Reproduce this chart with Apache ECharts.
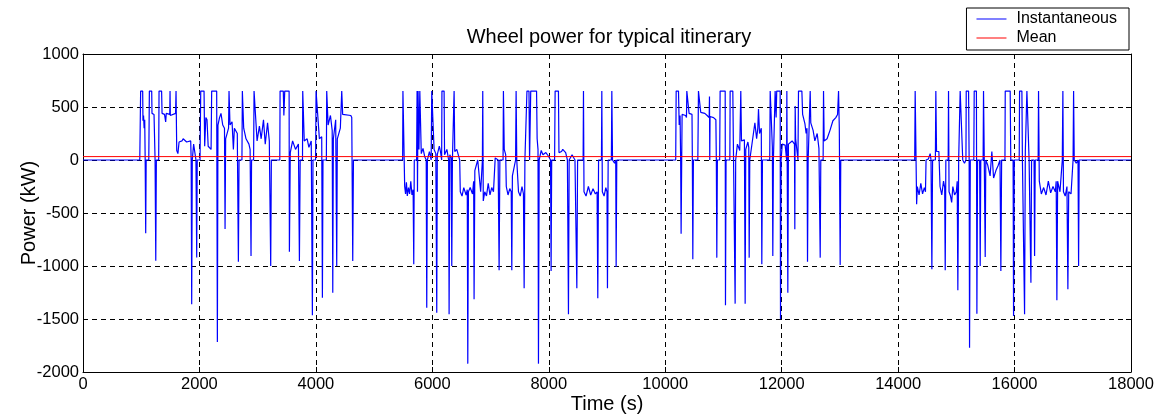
<!DOCTYPE html>
<html>
<head>
<meta charset="utf-8">
<script src="https://cdn.jsdelivr.net/npm/echarts@6/dist/echarts.min.js"></script>
<style>
html,body{margin:0;padding:0;background:#fff;overflow:hidden;}
#chart{width:1156px;height:416px;}
</style>
</head>
<body>
<div id="chart"></div>
<script>
// Trip 1 (forward)
var trip1Time = [975,990,1025,1030,1040,1050,1060,1068,1077,1085,1130,1140,1180,1185,1220,1238,1250,1260,1300,1306,1350,1358,1400,1420,1430,1490,1495,1500,1590,1598,1610,1630,1650,1700,1720,1780,1850,1858,1867,1877,1900,1940,1953,1962,2010,2022,2079,2090,2110,2130,2150,2200,2210,2296,2308,2318,2345,2370,2400,2430,2440,2450,2500,2508,2525,2560,2583,2600,2650,2669,2680,2730,2737,2760,2800,2850,2870,2886,2895,2930,2938,2990,3030,3060,3100,3130,3170,3200,3224,3235,3380,3385,3440,3450,3465,3540,3545,3560,3600,3650,3700,3717,3730,3770,3774,3800,3850,3880,3920,3940,3950,3995,4003,4026,4060,4100,4112,4122,4180,4186,4210,4250,4280,4290,4300,4340,4358,4368,4420,4444,4460,4600,4616,4633,4645];
var trip1Power = [0,650,650,370,420,300,380,0,-690,0,0,650,650,440,430,0,-950,0,0,650,650,440,430,360,440,430,650,420,440,650,90,60,170,180,200,170,180,0,-1360,0,150,0,-920,0,0,650,650,130,400,380,130,100,650,650,-1717,330,400,440,330,300,-650,200,300,650,330,360,100,300,250,-959,0,0,650,300,200,150,100,-906,0,0,650,180,320,200,380,150,350,180,-1000,0,0,650,650,420,650,650,-865,70,180,100,150,-953,0,0,650,180,200,120,180,-1465,0,0,650,650,200,220,-1299,0,0,650,330,420,280,-1252,200,380,-1000,200,300,650,430,420,400,-953,0];

// Trip 2 (return)
var trip2Time = [5490,5495,5515,5525,5540,5555,5570,5590,5610,5630,5650,5670,5681,5690,5730,5738,5745,5755,5770,5785,5800,5810,5840,5870,5895,5904,5915,5950,5980,5990,6019,6030,6060,6076,6085,6120,6140,6160,6165,6202,6210,6250,6280,6288,6300,6325,6334,6345,6370,6374,6385,6420,6440,6470,6480,6510,6540,6580,6600,6609,6620,6650,6690,6710,6717,6730,6780,6830,6860,6866,6875,6900,6930,6960,6990,7020,7050,7080,7110,7130,7147,7160,7215,7221,7235,7260,7270,7300,7330,7355,7365,7375,7430,7439,7450,7480,7510,7540,7565,7577,7590,7620,7625,7660,7670,7690,7790,7800,7815,7823,7835,7870,7900,7950,7990,8030,8040,8050,8100,8109,8166,8175,8220,8240,8290,8320,8338,8350,8400,8450,8482,8495,8590,8596,8605,8640,8680,8720,8760,8800,8830,8842,8855,8905,8911,8920,8950,8980,9000,9008,9020,9075,9083,9095,9130,9150,9157,9168];
var trip2Power = [0,650,650,-250,-320,-210,-340,-260,-320,-200,-330,-280,-984,0,0,650,-300,650,100,650,650,60,110,30,0,-1393,0,80,0,650,650,100,60,-1440,50,130,80,0,650,650,50,100,0,-1456,50,20,-1000,0,0,650,80,100,60,0,-300,-340,-260,-330,-280,-1921,-300,-260,-320,-200,-1314,-100,0,-300,0,650,-387,-300,-340,-220,-330,-260,-300,20,30,0,-1041,0,0,650,100,50,-250,-330,-270,-300,-1041,-150,0,650,0,-300,-340,-250,-320,-1211,0,0,650,650,0,650,650,200,100,-1921,0,90,50,70,40,0,-1047,0,0,650,650,70,80,100,70,0,-1456,0,50,0,-1211,0,0,650,-300,-340,-250,-330,-270,-320,-300,-1305,0,0,650,-300,-340,-260,-300,-1211,0,0,650,0,-30,0,-1009,0];

// Trip 3 (forward)
var trip3Time = [10180,10188,10228,10240,10255,10265,10273,10283,10290,10350,10365,10371,10399,10410,10460,10466,10474,10484,10560,10571,10600,10610,10680,10720,10755,10760,10765,10770,10830,10870,10878,10886,10896,10935,10943,11030,11035,11045,11110,11115,11161,11170,11190,11201,11210,11240,11280,11298,11310,11360,11373,11383,11420,11435,11442,11452,11480,11540,11570,11590,11602,11620,11650,11659,11670,11795,11803,11831,11840,11848,11858,11880,11888,11905,11915,11974,11980,11990,12010,12060,12085,12089,12100,12106,12116,12180,12220,12226,12232,12240,12280,12289,12347,12360,12400,12420,12435,12444,12455,12485,12490,12500,12540,12570,12610,12640,12662,12672,12712,12719,12730,12780,12830,12880,12930,12960,12977,12990,13005,13015];
var trip3Power = [0,650,650,330,420,0,-695,0,430,420,400,650,650,440,430,0,-937,0,0,650,650,450,440,420,400,600,0,410,400,380,0,-921,0,0,650,650,-1371,0,0,650,650,180,180,-1355,0,150,90,650,180,190,-1355,100,170,120,-921,0,0,350,200,300,480,250,300,-984,0,0,650,650,120,-906,0,0,650,400,650,650,-1503,0,150,140,0,650,650,-1252,150,180,150,-654,510,200,0,650,650,430,340,250,300,-959,0,0,650,350,280,180,250,110,-921,0,0,650,180,200,280,370,400,430,650,300,-990,0];

// Trip 4 (return)
var trip4Time = [14285,14293,14310,14318,14330,14360,14390,14420,14450,14470,14480,14520,14551,14565,14580,14592,14640,14648,14660,14700,14720,14750,14780,14800,14809,14820,14860,14866,14875,14900,14920,14940,14970,15000,15015,15026,15040,15060,15066,15095,15110,15140,15165,15170,15210,15220,15227,15240,15300,15307,15345,15353,15365,15400,15410,15420,15460,15467,15480,15496,15506,15540,15580,15610,15640,15680,15720,15750,15765,15778,15835,15840,15925,15935,15975,15983,15995,16080,16086,16126,16135,16160,16172,16185,16205,16212,16240,16250,16281,16292,16335,16344,16355,16405,16412,16425,16460,16500,16540,16580,16620,16660,16700,16715,16727,16740,16780,16820,16830,16840,16870,16900,16916,16930,16970,17005,17014,17025,17060,17090,17100,17110];
var trip4Power = [0,650,650,-418,-250,-330,-220,-320,-260,-300,0,10,60,0,-1031,0,0,650,80,80,-250,-330,-200,-260,-1041,0,0,650,-300,-340,-400,-250,-330,-300,-200,-1229,0,0,650,650,0,-30,0,650,650,0,-1771,0,0,650,650,-1450,0,0,-1000,0,0,650,0,-915,0,-50,-150,80,-170,-100,-50,0,-1047,0,0,650,650,0,0,-1472,0,0,650,650,0,0,-1456,80,80,650,650,0,-1157,0,0,-906,0,0,650,-200,-320,-260,-330,-200,-310,-250,-300,-200,-1324,-200,-300,0,650,-300,-340,-250,-1220,-300,-320,0,650,0,-30,0,-1000,0];

var meanPower = 32;
var timeRange = [0, 18000];
var powerRange = [-2000, 1000];
var xTickStep = 2000;
var yTickStep = 500;

var instData = [[0, 0]];
[[trip1Time, trip1Power],[trip2Time, trip2Power],[trip3Time, trip3Power],[trip4Time, trip4Power]].forEach(function (p) {
  for (var i = 0; i < p[0].length; i++) instData.push([p[0][i], p[1][i]]);
});
instData.push([18000, 0]);
var meanData = [[timeRange[0], meanPower], [timeRange[1], meanPower]];

var FONT = 'Liberation Sans, Arial, sans-serif';
function plain(v) { return String(v); }
var axisCommonX = {
  type: 'value', min: timeRange[0], max: timeRange[1], interval: xTickStep
};
var axisCommonY = {
  type: 'value', min: powerRange[0], max: powerRange[1], interval: yTickStep
};

var chart = echarts.init(document.getElementById('chart'), null, {renderer: 'canvas', width: 1156, height: 416});
chart.setOption({
  animation: false,
  backgroundColor: '#fff',
  textStyle: {fontFamily: FONT},
  title: {
    text: 'Wheel power for typical itinerary',
    left: 604, top: 22, textAlign: 'center',
    textStyle: {fontSize: 20, fontWeight: 'normal', color: '#000', fontFamily: FONT}
  },
  legend: {
    orient: 'vertical', right: 27, top: 8,
    backgroundColor: '#fff', borderColor: '#000', borderWidth: 1,
    padding: [3, 12, 4, 10], itemGap: 3,
    itemWidth: 30, itemHeight: 1, icon: 'rect',
    textStyle: {fontSize: 16, color: '#000', fontFamily: FONT, padding: [0, 0, 0, 5]},
    data: ['Instantaneous', 'Mean']
  },
  grid: {left: 83, top: 54, width: 1048, height: 318, containLabel: false, outerBoundsMode: 'none'},
  xAxis: [
    Object.assign({}, axisCommonX, {
      position: 'bottom',
      name: 'Time (s)', nameLocation: 'middle', nameGap: 22, nameMoveOverlap: false,
      nameTextStyle: {fontSize: 20, color: '#000', fontFamily: FONT},
      axisLine: {onZero: false, lineStyle: {color: '#000', width: 1}},
      axisTick: {inside: true, length: 5, lineStyle: {color: '#000'}},
      axisLabel: {color: '#000', fontSize: 16.5, margin: 4, fontFamily: FONT, formatter: plain},
      splitLine: {show: true, lineStyle: {color: '#000', width: 1, type: [5, 4]}}
    }),
    Object.assign({}, axisCommonX, {
      position: 'top',
      axisLine: {onZero: false, lineStyle: {color: '#000', width: 1}},
      axisTick: {inside: true, length: 5, lineStyle: {color: '#000'}},
      axisLabel: {show: false},
      splitLine: {show: false}
    })
  ],
  yAxis: [
    Object.assign({}, axisCommonY, {
      position: 'left',
      name: 'Power (kW)', nameLocation: 'middle', nameGap: 44, nameRotate: 90, nameMoveOverlap: false,
      nameTextStyle: {fontSize: 20, color: '#000', fontFamily: FONT},
      axisLine: {show: true, onZero: false, lineStyle: {color: '#000', width: 1}},
      axisTick: {show: true, inside: true, length: 5, lineStyle: {color: '#000'}},
      axisLabel: {color: '#000', fontSize: 16.5, margin: 4, fontFamily: FONT, formatter: plain},
      splitLine: {show: true, lineStyle: {color: '#000', width: 1, type: [5, 4]}}
    }),
    Object.assign({}, axisCommonY, {
      position: 'right',
      axisLine: {show: true, onZero: false, lineStyle: {color: '#000', width: 1}},
      axisTick: {show: true, inside: true, length: 5, lineStyle: {color: '#000'}},
      axisLabel: {show: false},
      splitLine: {show: false}
    })
  ],
  series: [
    {
      name: 'Instantaneous', type: 'line', data: instData,
      xAxisIndex: 0, yAxisIndex: 0,
      showSymbol: false, symbol: 'none', smooth: false,
      lineStyle: {color: '#0000ff', width: 1.2},
      itemStyle: {color: '#0000ff'},
      z: 2
    },
    {
      name: 'Mean', type: 'line', data: meanData,
      xAxisIndex: 0, yAxisIndex: 0,
      showSymbol: false, symbol: 'none',
      lineStyle: {color: '#ff0000', width: 1},
      itemStyle: {color: '#ff0000'},
      z: 3
    }
  ]
});
</script>
</body>
</html>
